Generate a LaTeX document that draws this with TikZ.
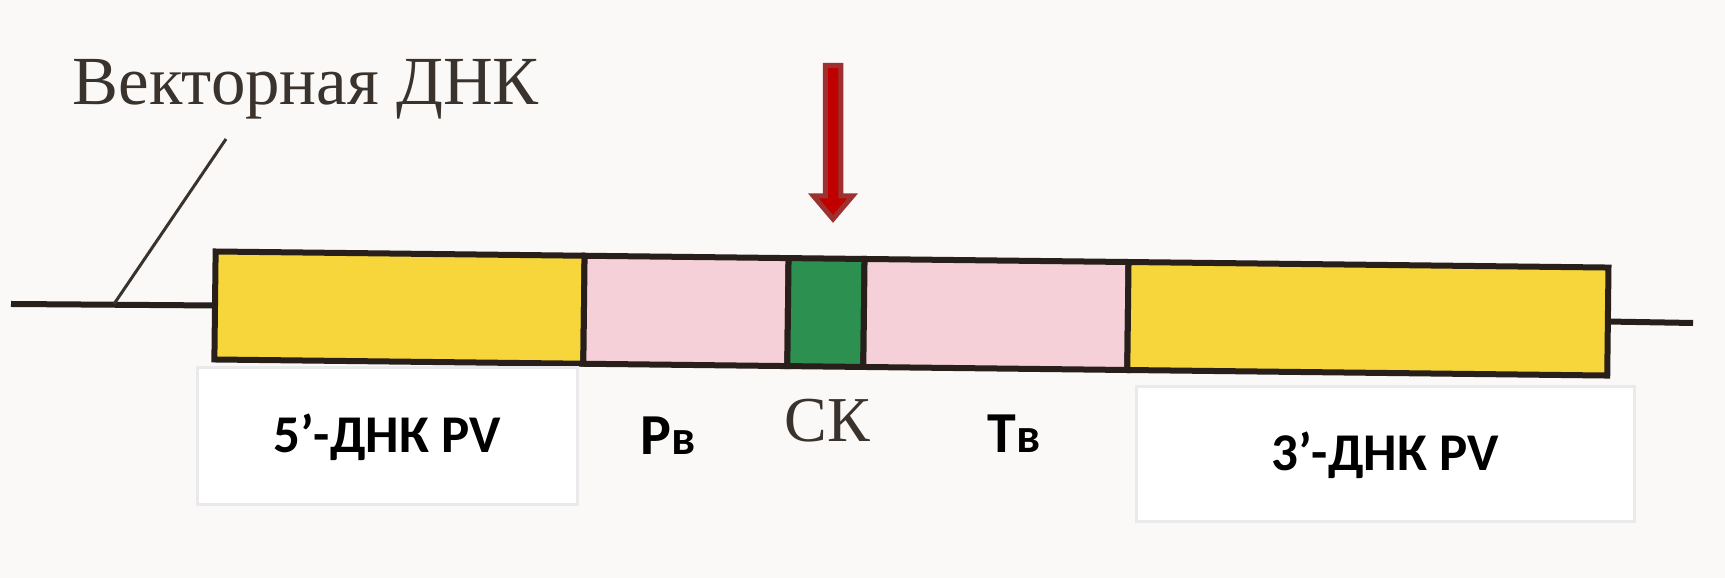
\documentclass[tikz,border=0pt]{standalone}
\usepackage{fontspec}
\setmainfont{Liberation Serif}
\newfontfamily\calib{Carlito}
\definecolor{bgc}{RGB}{250,249,247}
\definecolor{yelc}{RGB}{246,214,58}
\definecolor{pinkc}{RGB}{245,208,216}
\definecolor{greenc}{RGB}{44,145,80}
\definecolor{inkc}{RGB}{40,30,26}
\definecolor{printc}{RGB}{58,50,44}
\definecolor{arrfill}{RGB}{192,0,0}
\definecolor{arrline}{RGB}{158,48,48}
\definecolor{labline}{RGB}{234,234,236}
\tikzset{
  seg/.style={draw=inkc, line width=0.6mm, inner sep=0pt, minimum height=10.8mm},
  backbone/.style={draw=inkc, line width=0.6mm},
  leader/.style={draw=printc, line width=0.3mm},
  labbox/.style={draw=labline, fill=white, line width=0.3mm, inner sep=0pt,
     text height=3.3mm, text depth=0pt, font=\calib\bfseries\fontsize{15.1pt}{18pt}\selectfont},
  printtext/.style={text=printc, inner sep=0pt},
  boldlab/.style={inner sep=0pt, font=\calib\bfseries\fontsize{16.5pt}{19pt}\selectfont},
  cutarrow/.style={fill=arrfill, draw=arrline, line width=0.5mm, line join=miter}
}
\begin{document}
\begin{tikzpicture}[x=0.1mm, y=-0.1mm]
\fill[bgc] (0,0) rectangle (1725,578);
\useasboundingbox (0,0) rectangle (1725,578);

% DNA bar (slightly tilted, as in the photo)
\begin{scope}[rotate around={-0.66:(215,305.5)}, transform shape]
  \node[seg, fill=yelc,   minimum width=36.9mm] (y5) at (399.5,305.5) {};
  \node[seg, fill=pinkc,  minimum width=20.4mm] (pb) at (686,305.5) {};
  \node[seg, fill=greenc, minimum width=7.6mm]  (ck) at (826,305.5) {};
  \node[seg, fill=pinkc,  minimum width=26.4mm] (tb) at (996,305.5) {};
  \node[seg, fill=yelc,   minimum width=48mm]   (y3) at (1368,305.5) {};
\end{scope}

% backbone
\coordinate (lend) at (11,304);
\coordinate (rend) at (1693,323);
\draw[backbone] (lend) -- (y5.west);
\draw[backbone] (y3.east) -- (rend);

% label "Векторная ДНК" with leader
\node[printtext, anchor=base west, font=\fontsize{19.6pt}{23pt}\selectfont] (vec) at (72,105) {Векторная ДНК};
\coordinate (lt) at (226,139);
\coordinate (lb) at (114,304);
\draw[leader] (lt) -- (lb);

% red arrow
\draw[cutarrow] (825.25,65.5) -- (840.75,65.5) -- (840.75,196) -- (852.5,196)
   -- (833,219) -- (813.5,196) -- (825.25,196) -- cycle;

% lower labels
\node[labbox, minimum width=38mm, minimum height=13.7mm] (l5) at (387,436.5) {5’-ДНК PV};
\node[labbox, minimum width=49.8mm, minimum height=13.5mm] (l3) at (1385,454.5) {3’-ДНК PV};
\node[boldlab, anchor=base west] (lp) at (640,455) {Р{\fontsize{14pt}{16pt}\selectfont в}};
\node[boldlab, anchor=base west] (lt2) at (987,453) {Т{\fontsize{14pt}{16pt}\selectfont в}};
\node[printtext, anchor=base, font=\fontsize{18.2pt}{22pt}\selectfont] (ckl) at (827,442) {СК};
\end{tikzpicture}
\end{document}
